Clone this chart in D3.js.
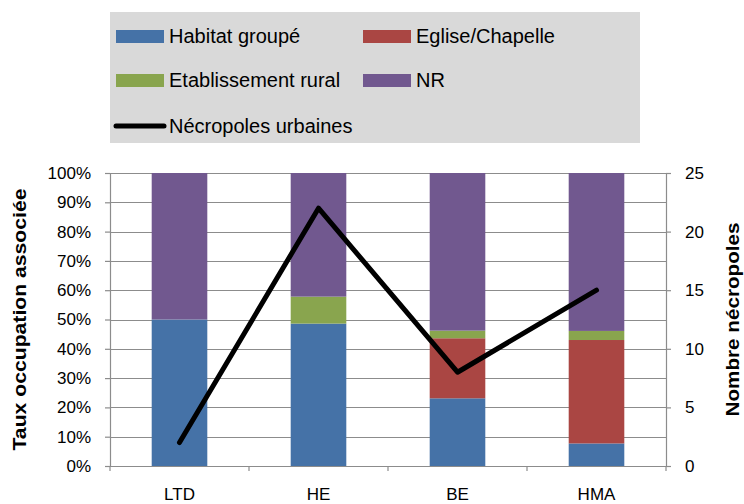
<!DOCTYPE html>
<html lang="fr">
<head>
  <meta charset="UTF-8">
  <title>Nécropoles</title>
  <script src="https://d3js.org/d3.v7.min.js"></script>
  <style>
    body { margin: 0; background: #fff; }
    svg text { font-family: "Liberation Sans", Arial, sans-serif; fill: #000; }
  </style>
</head>
<body>
  <div id="chart"></div>

  <script>
    // données
    const periodes = ["LTD", "HE", "BE", "HMA"];
    const series = ["Habitat groupé", "Eglise/Chapelle", "Etablissement rural", "NR"];
    const habitatGroupe = [0.50, 0.486, 0.231, 0.077];
    const egliseChapelle = [0, 0, 0.205, 0.353];
    const etabRural = [0, 0.092, 0.026, 0.031];
    const nonRens = [0.50, 0.422, 0.538, 0.539];
    const necropoles = [2, 22, 8, 15];
    const ticksGauche = [0, 0.1, 0.2, 0.3, 0.4, 0.5, 0.6, 0.7, 0.8, 0.9, 1];
    const ticksDroite = [0, 5, 10, 15, 20, 25];

    const couleurs = ["#4572A7", "#AA4643", "#89A54E", "#71588F"];

    const W = 744, H = 504;
    const margin = {top: 173, right: 78, bottom: 38, left: 110};
    const width = W - margin.left - margin.right,
          height = H - margin.top - margin.bottom;

    const root = d3.select("#chart").append("svg")
      .attr("width", W).attr("height", H);

    const svg = root.append("g")
      .attr("transform", `translate(${margin.left},${margin.top})`);

    const x = d3.scaleBand().domain(periodes).range([0, width]).paddingInner(0.6).paddingOuter(0.3);
    const xCat = d3.scaleBand().domain(periodes).range([0, width]);
    const y = d3.scaleLinear().domain([0, 1]).range([height, 0]);
    const y2 = d3.scaleLinear().domain([0, 25]).range([height, 0]);

    // grille
    svg.append("g")
      .selectAll("line")
      .data(ticksGauche)
      .enter().append("line")
      .attr("x1", 0).attr("x2", width)
      .attr("y1", d => Math.round(y(d)) + 0.5).attr("y2", d => Math.round(y(d)) + 0.5)
      .attr("stroke", "#8c8c8c").attr("stroke-width", 1.2);

    // barres empilées
    const table = periodes.map((p, i) => ({
      periode: p,
      "Habitat groupé": habitatGroupe[i],
      "Eglise/Chapelle": egliseChapelle[i],
      "Etablissement rural": etabRural[i],
      "NR": nonRens[i]
    }));
    const stack = d3.stack().keys(series)(table);

    svg.append("g").selectAll("g")
      .data(stack)
      .enter().append("g")
      .attr("fill", (d, i) => couleurs[i])
      .selectAll("rect")
      .data(d => d)
      .enter().append("rect")
      .attr("x", d => x(d.data.periode))
      .attr("width", x.bandwidth())
      .attr("y", d => y(d[1]))
      .attr("height", d => y(d[0]) - y(d[1]));

    // axes
    const axeG = svg.append("g")
      .call(d3.axisLeft(y).tickValues(ticksGauche).tickFormat(d3.format(".0%")).tickSize(5).tickPadding(14));
    const axeD = svg.append("g")
      .attr("transform", `translate(${width},0)`)
      .call(d3.axisRight(y2).tickValues(ticksDroite).tickSize(5).tickPadding(14));
    const axeX = svg.append("g")
      .attr("transform", `translate(0,${height})`)
      .call(d3.axisBottom(xCat).tickSize(0).tickPadding(22));
    // petits traits entre catégories
    svg.append("g").selectAll("line")
      .data(periodes.concat(["fin"]))
      .enter().append("line")
      .attr("x1", (d, i) => i * xCat.step()).attr("x2", (d, i) => i * xCat.step())
      .attr("y1", height).attr("y2", height + 5)
      .attr("stroke", "#8c8c8c").attr("stroke-width", 1.2);

    [axeG, axeD, axeX].forEach(a => {
      a.select(".domain").attr("stroke", "#8c8c8c").attr("stroke-width", 1.2);
      a.selectAll(".tick line").attr("stroke", "#8c8c8c").attr("stroke-width", 1.2);
      a.selectAll("text").style("font-size", "17px");
    });

    // courbe nécropoles
    const line = d3.line()
      .x((d, i) => xCat(periodes[i]) + xCat.bandwidth() / 2)
      .y(d => y2(d));
    svg.append("path")
      .datum(necropoles)
      .attr("d", line)
      .attr("fill", "none")
      .attr("stroke", "#000")
      .attr("stroke-width", 5)
      .attr("stroke-linecap", "round")
      .attr("stroke-linejoin", "round");

    // titres des axes
    svg.append("text")
      .attr("transform", `translate(${-84},${height / 2}) rotate(-90)`)
      .attr("text-anchor", "middle")
      .attr("textLength", 262).attr("lengthAdjust", "spacingAndGlyphs")
      .style("font-size", "18px").style("font-weight", "bold")
      .text("Taux occupation associée");
    svg.append("text")
      .attr("transform", `translate(${width + 73},${height / 2}) rotate(-90)`)
      .attr("text-anchor", "middle")
      .attr("textLength", 194).attr("lengthAdjust", "spacingAndGlyphs")
      .style("font-size", "18px").style("font-weight", "bold")
      .text("Nombre nécropoles");

    // légende
    const leg = root.append("g");
    leg.append("rect")
      .attr("x", 110).attr("y", 12).attr("width", 530).attr("height", 131)
      .attr("fill", "#d9d9d9");
    const items = series.map((s, i) => ({nom: s, couleur: couleurs[i], col: i % 2, row: Math.floor(i / 2)}));
    const colX = [116, 363], rowY = [36, 80];
    items.forEach(it => {
      leg.append("rect")
        .attr("x", colX[it.col]).attr("y", rowY[it.row] - 6)
        .attr("width", 48).attr("height", 13)
        .attr("fill", it.couleur);
      leg.append("text")
        .attr("x", colX[it.col] + 53).attr("y", rowY[it.row] + 7)
        .style("font-size", "20px")
        .text(it.nom);
    });
    leg.append("line")
      .attr("x1", 116).attr("x2", 164).attr("y1", 126).attr("y2", 126)
      .attr("stroke", "#000").attr("stroke-width", 5).attr("stroke-linecap", "round");
    leg.append("text")
      .attr("x", 169).attr("y", 133)
      .style("font-size", "20px")
      .text("Nécropoles urbaines");
  </script>
</body>
</html>
